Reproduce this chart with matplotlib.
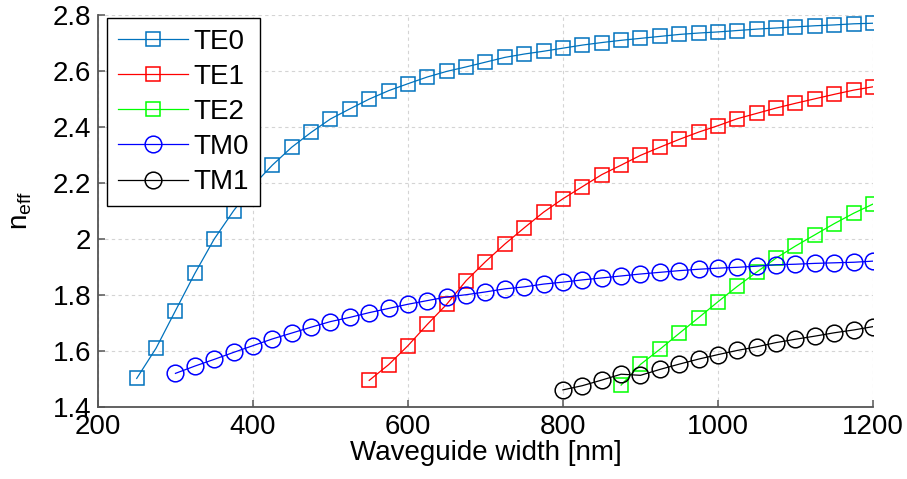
import numpy as np
import matplotlib.pyplot as plt
from matplotlib.ticker import FuncFormatter

# effective index vs waveguide width
w_te0 = np.arange(250, 1201, 25)
n_te0 = [1.501, 1.609, 1.743, 1.876, 1.999, 2.100, 2.190, 2.263, 2.327, 2.380,
         2.428, 2.464, 2.499, 2.529, 2.554, 2.578, 2.598, 2.614, 2.631, 2.648,
         2.660, 2.670, 2.681, 2.692, 2.701, 2.709, 2.716, 2.723, 2.730, 2.735,
         2.739, 2.744, 2.749, 2.753, 2.757, 2.761, 2.764, 2.768, 2.770]

w_te1 = np.arange(550, 1201, 25)
n_te1 = [1.494, 1.550, 1.618, 1.694, 1.766, 1.850, 1.918, 1.981, 2.039, 2.095,
         2.143, 2.186, 2.229, 2.263, 2.298, 2.327, 2.355, 2.381, 2.404, 2.429,
         2.448, 2.467, 2.484, 2.500, 2.516, 2.531, 2.543]

w_te2 = np.arange(875, 1201, 25)
n_te2 = [1.477, 1.551, 1.605, 1.662, 1.718, 1.775, 1.830, 1.881, 1.931, 1.974,
         2.014, 2.054, 2.091, 2.124]

w_tm0 = np.arange(300, 1201, 25)
n_tm0 = [1.519, 1.545, 1.569, 1.594, 1.618, 1.642, 1.663, 1.684, 1.704, 1.719,
         1.736, 1.751, 1.766, 1.779, 1.792, 1.800, 1.810, 1.821, 1.828, 1.838,
         1.845, 1.853, 1.860, 1.867, 1.874, 1.880, 1.886, 1.891, 1.895, 1.898,
         1.902, 1.907, 1.909, 1.912, 1.914, 1.916, 1.920]

w_tm1 = np.arange(800, 1201, 25)
n_tm1 = [1.460, 1.475, 1.495, 1.516, 1.512, 1.533, 1.552, 1.570, 1.586, 1.601,
         1.614, 1.629, 1.641, 1.652, 1.664, 1.674, 1.686]

plt.rcParams['font.family'] = ['Liberation Sans', 'DejaVu Sans']
FS = 20

fig = plt.figure(figsize=(9.07, 4.79), dpi=100)
ax = fig.add_axes([0.108, 0.151, 0.8545, 0.818])

ax.plot(w_te0, n_te0, '-s', color='#0072BD', lw=0.9, ms=10, mfc='none', mew=1.1, label='TE0')
ax.plot(w_te1, n_te1, '-s', color='#FF0000', lw=0.9, ms=10, mfc='none', mew=1.1, label='TE1')
ax.plot(w_te2, n_te2, '-s', color='#00FF00', lw=0.9, ms=10, mfc='none', mew=1.1, label='TE2')
ax.plot(w_tm0, n_tm0, '-o', color='#0000FF', lw=0.9, ms=12, mfc='none', mew=1.1, label='TM0')
ax.plot(w_tm1, n_tm1, '-o', color='#000000', lw=0.9, ms=12, mfc='none', mew=1.1, label='TM1')

ax.set_xlim(200, 1200)
ax.set_ylim(1.4, 2.8)
ax.set_xticks(np.arange(200, 1201, 200))
ax.set_yticks(np.arange(1.4, 2.81, 0.2))
ax.yaxis.set_major_formatter(FuncFormatter(lambda v, p: '%g' % round(v, 2)))

ax.grid(True, ls=(0, (3, 3)), color='#d4d4d4', lw=0.8)
ax.set_axisbelow(True)
for s in ['top', 'right']:
    ax.spines[s].set_visible(False)
for s in ['left', 'bottom']:
    ax.spines[s].set_color('#555555')
    ax.spines[s].set_linewidth(1.3)
ax.tick_params(direction='in', length=5, width=1.1, color='#555555',
               labelsize=FS, pad=5)

ax.set_xlabel('Waveguide width [nm]', fontsize=FS, labelpad=0)
ax.set_ylabel(r'$\mathregular{n_{eff}}$', fontsize=FS, labelpad=13)

leg = ax.legend(loc='upper left', bbox_to_anchor=(0.012, 0.993), fontsize=FS,
                frameon=True, fancybox=False, edgecolor='black', framealpha=1,
                handlelength=2.5, handletextpad=0.2, labelspacing=0.33,
                borderpad=0.4, borderaxespad=0)
leg.get_frame().set_linewidth(1.0)

fig.savefig('out.png', dpi=100)
